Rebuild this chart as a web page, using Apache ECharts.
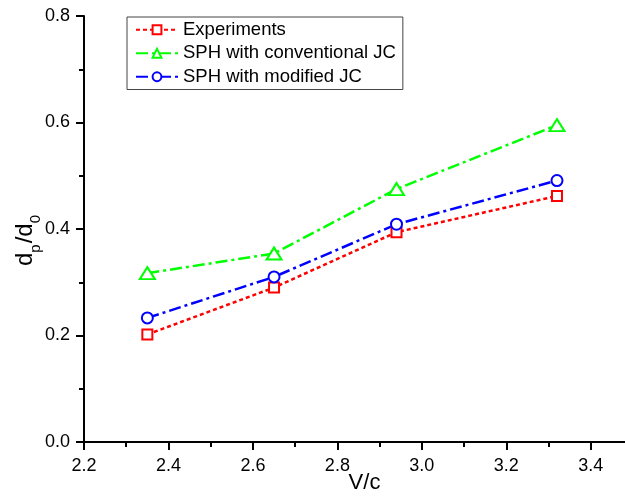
<!DOCTYPE html>
<html>
<head>
<meta charset="utf-8">
<script src="https://cdn.jsdelivr.net/npm/echarts@6/dist/echarts.min.js"></script>
<style>html,body{margin:0;padding:0;background:#fff;}#c{width:625px;height:500px;}</style>
</head>
<body>
<div id="c"></div>
<script>
const seriesNames = ['Experiments', 'SPH with conventional JC', 'SPH with modified JC'];
const xExperiments = [2.35, 2.65, 2.94, 3.32];
const yExperiments = [0.202, 0.290, 0.394, 0.462];
const xConventional = [2.35, 2.65, 2.94, 3.32];
const yConventional = [0.317, 0.354, 0.475, 0.595];
const xModified = [2.35, 2.65, 2.94, 3.32];
const yModified = [0.233, 0.310, 0.409, 0.491];

const FONT = '"Liberation Sans", Arial, sans-serif';
const pairs = (xs, ys) => xs.map((x, i) => [x, ys[i]]);

const chart = echarts.init(document.getElementById('c'), null, {renderer: 'canvas'});
const axisCommon = {
  axisLine: {lineStyle: {color: '#000', width: 2}},
  axisTick: {inside: false, length: 8, lineStyle: {color: '#000', width: 2}},
  minorTick: {show: true, splitNumber: 2, length: 5, lineStyle: {color: '#000', width: 2}},
  splitLine: {show: false},
  nameMoveOverlap: false,
  axisLabel: {color: '#000', fontFamily: FONT, fontSize: 18, formatter: v => v.toFixed(1)}
};
chart.setOption({
  backgroundColor: '#fff',
  animation: false,
  grid: {left: 84, top: 16, bottom: 58, right: -8, outerBoundsMode: 'none', containLabel: false},
  xAxis: Object.assign({}, axisCommon, {
    type: 'value', min: 2.2, max: 3.5, interval: 0.2,
    name: 'V/c', nameLocation: 'middle', nameGap: 30,
    nameTextStyle: {color: '#000', fontFamily: FONT, fontSize: 22, padding: [0, 0, 0, 12]},
    axisLabel: Object.assign({}, axisCommon.axisLabel, {margin: 15, showMaxLabel: false})
  }),
  yAxis: Object.assign({}, axisCommon, {
    type: 'value', min: 0, max: 0.8, interval: 0.2,
    name: '{a|d}{s|p}{a|/d}{s|0}', nameLocation: 'middle', nameGap: 45,
    nameTextStyle: {
      color: '#000', fontFamily: FONT, fontSize: 24, padding: [0, 22, 0, 0],
      rich: {
        a: {fontFamily: FONT, fontSize: 24, color: '#000', lineHeight: 26, verticalAlign: 'top'},
        s: {fontFamily: FONT, fontSize: 15, color: '#000', lineHeight: 15, verticalAlign: 'top', padding: [15, 1, 0, 0]}
      }
    },
    axisLabel: Object.assign({}, axisCommon.axisLabel, {margin: 14})
  }),
  legend: {
    orient: 'vertical', left: 127, top: 17,
    padding: [3, 7, 3, 8], itemGap: 4, itemWidth: 42, itemHeight: 11,
    borderColor: '#444', borderWidth: 1,
    textStyle: {color: '#000', fontFamily: FONT, fontSize: 18.5, lineHeight: 19.5},
    data: seriesNames
  },
  series: [
    {
      name: seriesNames[0], type: 'line', data: pairs(xExperiments, yExperiments),
      symbol: 'rect', symbolSize: 10,
      itemStyle: {color: '#fff', borderColor: '#ff0000', borderWidth: 2},
      lineStyle: {color: '#ff0000', width: 2.5, type: [4, 3]}
    },
    {
      name: seriesNames[1], type: 'line', data: pairs(xConventional, yConventional),
      symbol: 'triangle', symbolSize: [15, 12],
      itemStyle: {color: '#fff', borderColor: '#00ff00', borderWidth: 2},
      lineStyle: {color: '#00ff00', width: 2.5, type: [12, 4, 3, 4]}
    },
    {
      name: seriesNames[2], type: 'line', data: pairs(xModified, yModified),
      symbol: 'circle', symbolSize: 11,
      itemStyle: {color: '#fff', borderColor: '#0000ff', borderWidth: 2},
      lineStyle: {color: '#0000ff', width: 2.5, type: [12, 4, 3, 4]}
    }
  ]
});
</script>
</body>
</html>
